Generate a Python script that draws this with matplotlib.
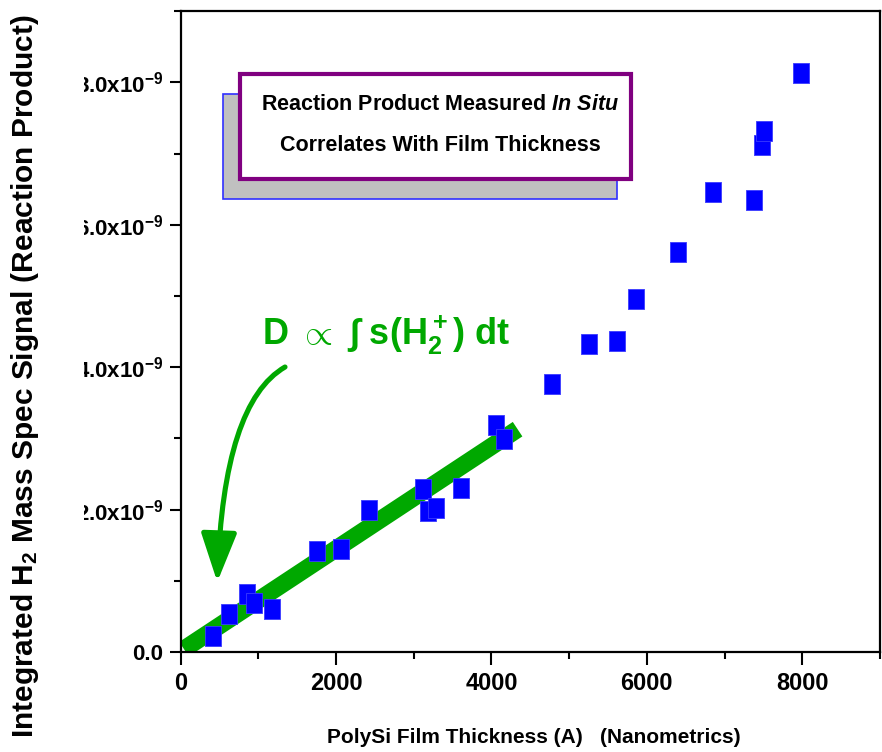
import matplotlib
matplotlib.use("Agg")
import matplotlib.pyplot as plt
import numpy as np
from matplotlib import font_manager
from matplotlib.patches import Rectangle, FancyArrowPatch
from matplotlib.transforms import Bbox, TransformedBbox
from matplotlib.ticker import MultipleLocator

# film thickness (A) and integrated H2 signal (x1e-9)
thickness = [414, 623, 851, 945, 1176, 1758, 2059, 2423, 3120, 3190, 3293, 3605,
             4064, 4158, 4778, 5259, 5619, 5867, 6403, 6848, 7375, 7482, 7512, 7984]
signal = [0.23, 0.53, 0.82, 0.69, 0.60, 1.42, 1.44, 1.99, 2.29, 1.98, 2.02, 2.31,
          3.19, 2.99, 3.77, 4.33, 4.37, 4.96, 5.62, 6.46, 6.35, 7.12, 7.32, 8.14]

# hand drawn trend band
fit_thickness = [45, 4337]
fit_signal = [0.04, 3.13]

x_ticks = [0, 2000, 4000, 6000, 8000]
y_ticks = [0, 2, 4, 6, 8]
y_tick_labels = ["0.0", "2.0x10$^{-9}$", "4.0x10$^{-9}$", "6.0x10$^{-9}$", "8.0x10$^{-9}$"]

plt.rcParams['font.family'] = ['Liberation Sans', 'DejaVu Sans']
plt.rcParams['font.weight'] = 'bold'
plt.rcParams['mathtext.fontset'] = 'custom'
plt.rcParams['mathtext.rm'] = 'Liberation Sans:bold'
plt.rcParams['mathtext.bf'] = 'Liberation Sans:bold'
plt.rcParams['mathtext.sf'] = 'Liberation Sans:bold'
plt.rcParams['mathtext.it'] = 'Liberation Sans:bold:italic'
plt.rcParams['mathtext.default'] = 'rm'

# condensed font for the x label if there is one
try:
    font_manager.findfont(font_manager.FontProperties(family='Liberation Sans Narrow'),
                          fallback_to_default=False)
    narrow = ['Liberation Sans Narrow']
    xlab_size = 18
except ValueError:
    narrow = ['Liberation Sans']
    xlab_size = 15

fig = plt.figure(figsize=(8.82, 7.52), dpi=100)
ax = fig.add_axes([180.5 / 882, 1 - 652 / 752, 699.5 / 882, (652 - 11.3) / 752])

# green band + data
ax.plot(fit_thickness, np.array(fit_signal) * 1e-9, color='#00a800', lw=12.5,
        solid_capstyle='butt', zorder=2)
rect = [(-0.405, -0.5), (0.405, -0.5), (0.405, 0.5), (-0.405, 0.5), (-0.405, -0.5)]
ax.plot(thickness, np.array(signal) * 1e-9, ls='none', marker=rect, ms=15,
        color='#0000ff', mec='#3a3aff', mew=0.6, zorder=3)

ax.set_xlim(0, 9000)
ax.set_ylim(0, 9e-9)
ax.set_xticks(x_ticks)
ax.set_xticklabels([str(v) for v in x_ticks], fontsize=17)
ax.set_yticks(np.array(y_ticks) * 1e-9)
ax.set_yticklabels(y_tick_labels, fontsize=16)
ax.xaxis.set_minor_locator(MultipleLocator(1000))
ax.yaxis.set_minor_locator(MultipleLocator(1e-9))
ax.tick_params(which='major', direction='out', length=9.5, width=1.5, pad=5)
ax.tick_params(which='minor', direction='out', length=5, width=1.5)
ax.tick_params(axis='y', which='major', length=8, pad=4.5)
for s in ax.spines.values():
    s.set_linewidth(1.6)

# left part of the y tick labels is cut off in the original
clip = TransformedBbox(Bbox([[84 / 882, 0], [1, 1]]), fig.transFigure)
for t in ax.yaxis.get_major_ticks():
    t.label1.set_clip_box(clip)
    t.label1.set_clip_on(True)

ax.set_xlabel("PolySi Film Thickness (A)   (Nanometrics)", family=narrow,
              fontsize=xlab_size, fontweight='bold')
ax.xaxis.set_label_coords(0.505, -0.134)
ax.xaxis.label.set_va('center')
ax.set_ylabel("Integrated H$_2$ Mass Spec Signal (Reaction Product)", fontsize=21.5,
              fontweight='bold')
ax.yaxis.set_label_coords(-0.222, 0.431)
ax.yaxis.label.set_va('center')
ax.yaxis.label.set_ha('center')

# title box with shadow
ax.add_patch(Rectangle((0.0614, 0.7078), 0.5626, 0.1639, transform=ax.transAxes,
                       fc='#c0c0c0', ec='#3030ff', lw=1.2, zorder=4, clip_on=False))
ax.add_patch(Rectangle((0.0857, 0.7383), 0.559, 0.1631, transform=ax.transAxes,
                       fc='white', ec='#800080', lw=3, zorder=5, clip_on=False))
ax.text(0.371, 0.854, r"Reaction Product Measured $\mathit{In\ Situ}$", transform=ax.transAxes,
        ha='center', va='center', fontsize=15.5, zorder=6)
ax.text(0.371, 0.791, "Correlates With Film Thickness", transform=ax.transAxes,
        ha='center', va='center', fontsize=15.5, zorder=6)

# equation and curved arrow
ax.text(0.116, 0.495, r"D $\propto$ $\int$ s(H$_2^+$) dt", transform=ax.transAxes,
        ha='left', va='center', fontsize=26, color='#00a800', zorder=6)
arrow = FancyArrowPatch((0.1494, 0.4448), (0.0526, 0.1093), transform=ax.transAxes,
                        connectionstyle='angle3,angleA=30,angleB=88',
                        arrowstyle='-|>,head_length=30,head_width=11',
                        color='#00a800', lw=3.7, shrinkA=0, shrinkB=0, zorder=6)
ax.add_patch(arrow)

fig.savefig("out.png", dpi=100)
